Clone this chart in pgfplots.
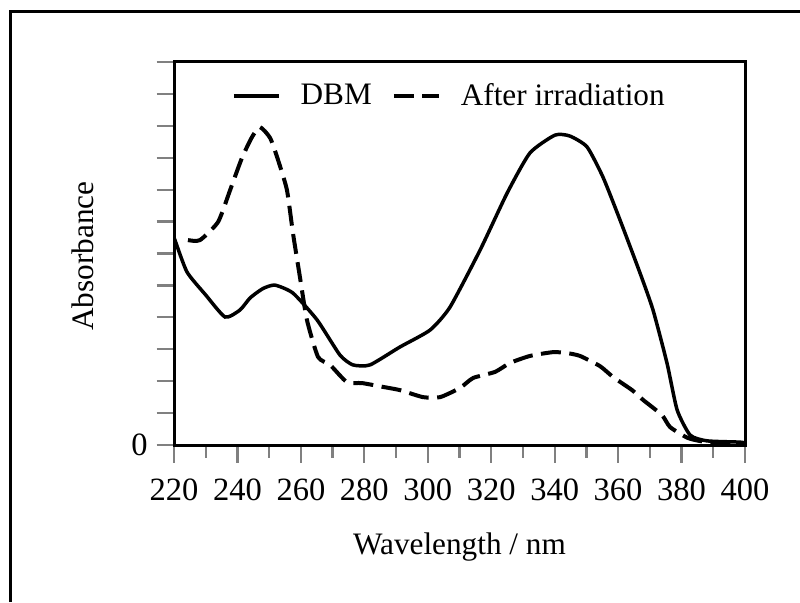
\documentclass[border=0pt]{standalone}
\usepackage{pgfplots}
\pgfplotsset{compat=1.18}
\usepackage{fontspec}
\setmainfont{Liberation Serif}
\begin{document}
\begin{tikzpicture}
\path[use as bounding box] (0pt,0pt) rectangle (320pt,240.8pt);
\draw[line width=1.2pt] (4pt,0pt) -- (4pt,236pt) -- (320pt,236pt);
\begin{axis}[
  scale only axis,
  width=228.4pt, height=153.2pt,
  at={(69.6pt,62.8pt)}, anchor=south west,
  xmin=220, xmax=400, ymin=0, ymax=12,
  axis line style={line width=1.2pt},
  xtick={220,240,...,400},
  minor xtick={230,250,...,390},
  ytick={0,1,...,12},
  yticklabels={0},
  tick align=outside,
  xtick pos=bottom, ytick pos=left,
  major tick length=7pt, minor tick length=5pt,
  y tick style={line width=0.9pt},
  x tick style={line width=0.9pt},
  /pgf/number format/assume math mode=true,
  /pgf/number format/1000 sep={},
  tick label style={font=\fontsize{13}{15}\selectfont},
  xticklabel style={yshift=-3pt},
  label style={font=\fontsize{12.5}{15}\selectfont},
  xlabel={Wavelength / nm},
  ylabel={Absorbance},
  xlabel style={at={(axis description cs:0.5,0)}, anchor=center, yshift=-41pt},
  ylabel style={at={(axis description cs:-0.159,0.493)}, anchor=center, rotate=0},
  legend style={draw=none, fill=none, at={(0.485,0.911)}, anchor=center,
    font=\fontsize{12.5}{15}\selectfont, column sep=6pt},
  legend columns=2,
  legend image code/.code={\draw[#1] (0pt,0pt) -- (18pt,0pt);},
]
\addplot[line width=1.4pt, black, smooth, tension=0.35] coordinates {
(220,6.5) (220.3,6.42) (224.1,5.42) (230,4.7) (236.1,4.01) (240.8,4.23) (244.0,4.61) (248,4.9) (251.8,5.01)
(257.5,4.76) (265.1,3.92) (272.3,2.82) (276.4,2.51) (281.8,2.51) (291.2,3.07)
(300.7,3.60) (307.0,4.32) (316.5,6.11) (325.0,7.89) (332.2,9.15) (340.1,9.71)
(344.8,9.68) (350.2,9.34) (355.2,8.40) (360.6,7.05) (366.9,5.39) (371.0,4.23)
(375.4,2.57) (378.6,1.10) (382.7,0.31) (388.0,0.13) (398.4,0.09) (400,0.06)
};
\addlegendentry{DBM}
\addplot[line width=1.6pt, black, dash pattern=on 8pt off 3.4pt, smooth, tension=0.35] coordinates {
(224.4,6.42) (228.2,6.42) (233.9,6.99) (237.7,7.99) (241.4,8.99) (244.6,9.65)
(247.1,9.96) (250.3,9.62) (252.8,8.93) (255.6,7.99) (257.5,6.64) (259.7,5.26)
(261.9,3.92) (265.4,2.76) (269.2,2.51) (274.5,1.97) (279.3,1.94) (285.9,1.82)
(291.2,1.72) (298.5,1.50) (303.9,1.50) (310.2,1.79) (314.3,2.10) (321.2,2.29)
(325.9,2.57) (332.2,2.79) (339.5,2.91) (343.9,2.88) (348.0,2.79) (354.3,2.47)
(358.4,2.13) (364.4,1.72) (367.9,1.41) (373.8,0.94) (376.4,0.56) (382.0,0.22)
(388.0,0.09) (398.4,0.06) (400,0.05)
};
\addlegendentry{After irradiation}
\end{axis}
\end{tikzpicture}
\end{document}
